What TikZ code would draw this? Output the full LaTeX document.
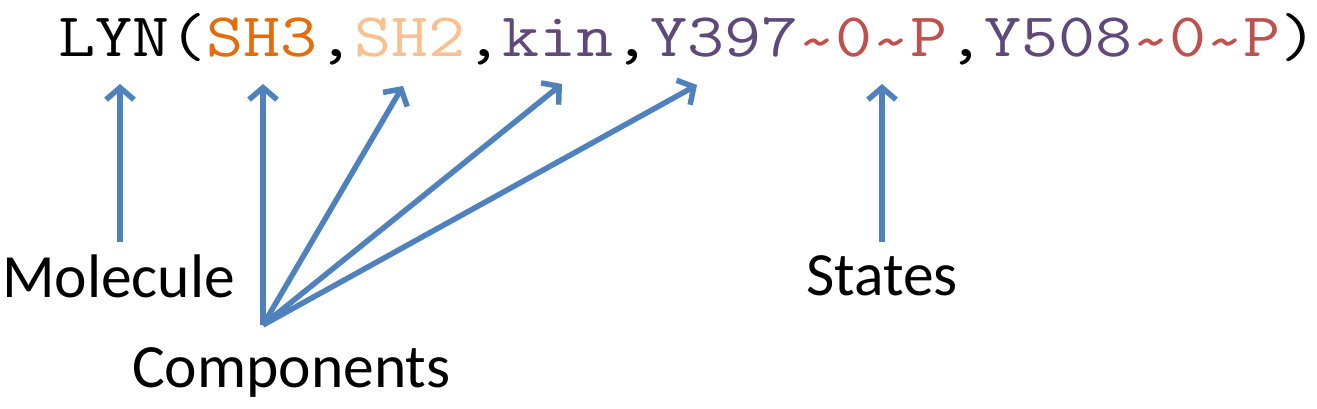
\documentclass[tikz,border=0pt]{standalone}
\usepackage{fontspec}
\setmainfont{Carlito}
\newfontfamily\codefont{Latin Modern Mono}[FakeStretch=1.16]
\usetikzlibrary{arrows.meta}
\definecolor{arrowblue}{RGB}{79,129,189}
\definecolor{compA}{RGB}{228,108,10}
\definecolor{compB}{RGB}{250,192,143}
\definecolor{compC}{RGB}{96,73,122}
\definecolor{stateC}{RGB}{192,80,77}
\newcommand\tld{\raisebox{-0.07em}{\textasciitilde}}
\tikzset{
  codetext/.style={inner sep=0pt, anchor=base west, font=\codefont\fontsize{62}{72}\selectfont},
  labeltext/.style={inner sep=0pt, anchor=base west, font=\fontsize{61.5}{70}\selectfont},
  pointer/.style={draw=arrowblue, line width=5.5pt, -{Straight Barb[length=12pt,width=28pt,line join=miter]}},
}
\begin{document}
\begin{tikzpicture}[x=1pt,y=-1pt]
\useasboundingbox (0,0) rectangle (1317,409);
\node[codetext] (code) at (58,57) {LYN(\textcolor{compA}{SH3},\textcolor{compB}{SH2},\textcolor{compC}{kin},\textcolor{compC}{Y397}\textcolor{stateC}{\tld0\tld P},\textcolor{compC}{Y508}\textcolor{stateC}{\tld0\tld P})};
\node[labeltext] (mol) at (2,297) {Molecule};
\node[labeltext] (comp) at (132,387) {Components};
\node[labeltext] (states) at (806,295) {States};
\coordinate (molTop) at (120,242);
\coordinate (hub) at (263,325);
\coordinate (stTop) at (882,242);
\coordinate (tMol) at (120,84);
\coordinate (tSH3) at (263,84);
\coordinate (tSH2) at (403,86);
\coordinate (tKin) at (562,84);
\coordinate (tY) at (697,85);
\coordinate (tSt) at (882,84);
\draw[pointer] (molTop) -- (tMol);
\draw[pointer] (hub) -- (tSH3);
\draw[pointer] (hub) -- (tSH2);
\draw[pointer] (hub) -- (tKin);
\draw[pointer] (hub) -- (tY);
\draw[pointer] (stTop) -- (tSt);
\end{tikzpicture}
\end{document}
